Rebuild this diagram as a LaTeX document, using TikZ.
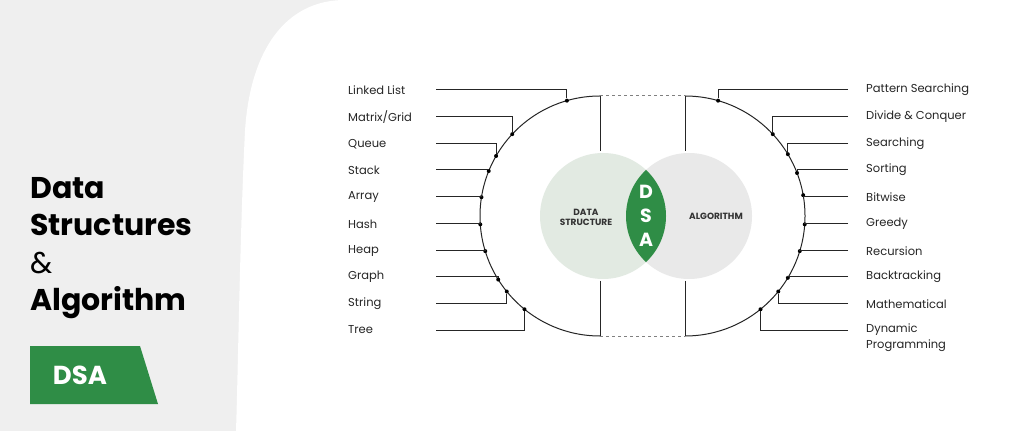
\documentclass[tikz,border=0pt]{standalone}
\usepackage{fontspec}
\setmainfont{Poppins}
\usetikzlibrary{calc}
\definecolor{gfg}{HTML}{2F8D46}
\definecolor{bggray}{HTML}{EFEFEF}
\definecolor{dsfill}{HTML}{E2EAE2}
\definecolor{alfill}{HTML}{E9E9E9}
\tikzset{
  item/.style={anchor=west, inner sep=0pt, font=\fontsize{11.5}{13}\selectfont, text=black!85},
  link/.style={draw=black!85, line width=1pt},
  pin/.style={fill=black, circle, inner sep=0pt, minimum size=4pt},
}
\begin{document}
\begin{tikzpicture}[x=1pt,y=1pt]
    \useasboundingbox (0,0) rectangle (1024,431);
    \fill [bggray] (0,0) rectangle (1024,431);
    \fill [white] (1024,431) -- (345,431) .. controls (285,431) and (250,380) .. (245,300)
        .. controls (240,200) and (238,60) .. (236,0) -- (1024,0) -- cycle;
    % title and badge
    \node [anchor=west, inner sep=0pt, align=left, font=\fontsize{30}{37.5}\selectfont\bfseries] (title) at (30,183)
        {Data\\Structures\\{\mdseries\&}\\Algorithm};
    \fill [gfg] (30,85) -- (140,85) -- (158,27) -- (30,27) -- cycle;
    \node [text=white, font=\fontsize{26}{28}\selectfont\bfseries] (badge) at (80,56) {DSA};
    % venn
    \coordinate (cl) at (600,215);
    \coordinate (cr) at (685,215);
    \fill [alfill] (689,215) circle (63);
    \fill [dsfill] (603,215) circle (63);
    \begin{scope}
        \clip (603,215) circle (63);
        \fill [gfg] (689,215) circle (63);
    \end{scope}
    \node [font=\fontsize{9}{10}\selectfont\bfseries, align=center, text=black!80] (ds) at (586,214) {DATA\\STRUCTURE};
    \node [font=\fontsize{9}{10}\selectfont\bfseries, text=black!80] (al) at (716,215) {ALGORITHM};
    \node [font=\fontsize{19}{24}\selectfont\bfseries, align=center, text=white] (dsa) at (646,215) {D\\S\\A};
    % half circles
    \draw [link] (600,335) -- (600,280);
    \draw [link] (600,150) -- (600,95);
    \draw [link] (600,335) arc (90:270:120);
    \draw [link] (685,335) -- (685,280);
    \draw [link] (685,150) -- (685,95);
    \draw [link] (685,335) arc (90:-90:120);
    \draw [black!50, dashed, line width=1pt] (600,335) -- (685,335);
    \draw [black!50, dashed, line width=1pt] (600,95) -- (685,95);
    % left items
    \foreach \i/\txt/\ang/\yy in {1/Linked List/106/341, 2/Matrix\slash Grid/137/314, 3/Queue/150/287,
        4/Stack/158/261, 5/Array/171/234, 6/Hash/184/207, 7/Heap/197/180, 8/Graph/212/154,
        9/String/219/127, 10/Tree/231/101} {
        \node [item] (l\i) at (348,\yy) {\txt};
        \coordinate (ls\i) at (436,\yy);
        \node [pin] (ld\i) at ($(cl)+(\ang:120)$) {};
        \draw [link] (ls\i) -| (ld\i);
    }
    % right items
    \foreach \i/\txt/\ang/\yy in {1/Pattern Searching/74/341, 2/Divide \& Conquer/43/314, 3/Searching/31/287,
        4/Sorting/21/261, 5/Bitwise/10/234, 6/Greedy/-4/207, 7/Recursion/-17/180, 8/Backtracking/-31/154,
        9/Mathematical/-39/127, 10/Dynamic/-51/101} {
        \node [item] (r\i) at (866,\yy) {\txt};
        \coordinate (rs\i) at (848,\yy);
        \node [pin] (rd\i) at ($(cr)+(\ang:120)$) {};
        \draw [link] (rs\i) -| (rd\i);
    }
    \node [item] (r11) at (866,85) {Programming};
\end{tikzpicture}
\end{document}
